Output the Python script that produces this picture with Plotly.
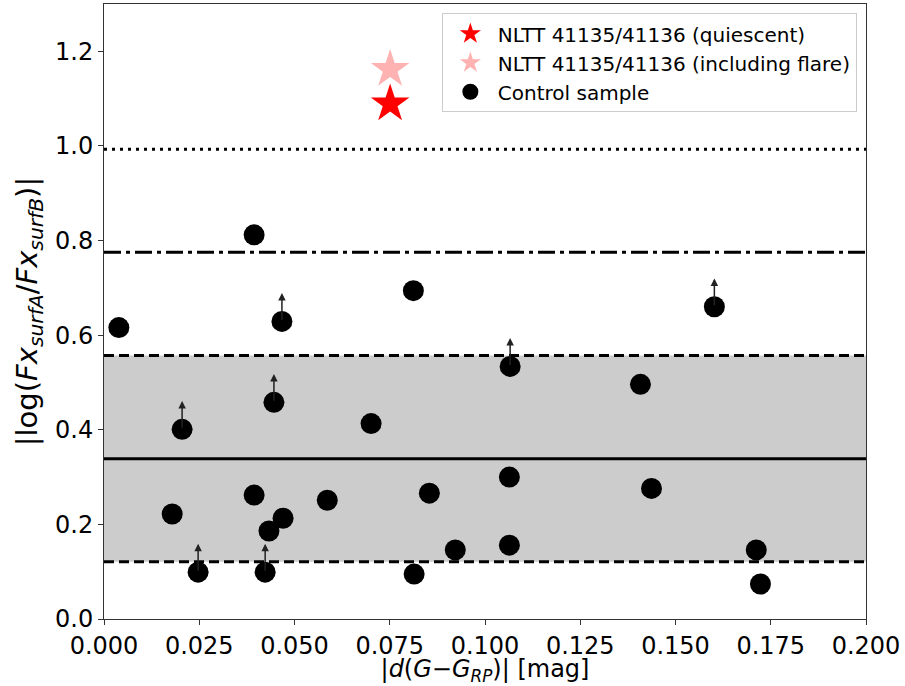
import plotly.graph_objects as go

# Control sample
ctrl_x = [0.0039, 0.0179, 0.0205, 0.0247, 0.0394, 0.0394, 0.0423, 0.0433, 0.0446, 0.0467,
          0.0470, 0.0586, 0.0701, 0.0812, 0.0814, 0.0854, 0.0922, 0.1066, 0.1064, 0.1064,
          0.1408, 0.1437, 0.1602, 0.1712, 0.1723]
ctrl_y = [0.616, 0.222, 0.401, 0.099, 0.812, 0.262, 0.099, 0.186, 0.458, 0.629,
          0.213, 0.251, 0.413, 0.694, 0.095, 0.266, 0.146, 0.534, 0.300, 0.156,
          0.496, 0.276, 0.660, 0.146, 0.074]
# lower limits (arrows)
ctrl_lim = [0, 0, 1, 1, 0, 0, 1, 0, 1, 1,
            0, 0, 0, 0, 0, 0, 0, 1, 0, 0,
            0, 0, 1, 0, 0]

star_x = [0.0751]
star_y_quiescent = [1.089]
star_y_flare = [1.162]

mean_val = 0.339
sigma_val = 0.218
arrow_len = 0.06

fig = go.Figure()

# shaded 1-sigma band
fig.add_shape(type="rect", xref="x domain", yref="y", x0=0, x1=1,
              y0=mean_val - sigma_val, y1=mean_val + sigma_val,
              fillcolor="#cccccc", line_width=0, layer="below")

line_specs = [
    (mean_val, "solid"),
    (mean_val - sigma_val, "10px,5px"),
    (mean_val + sigma_val, "10px,5px"),
    (mean_val + 2 * sigma_val, "17px,5px,4px,5px"),
    (mean_val + 3 * sigma_val, "3px,5px"),
]
for yv, dash in line_specs:
    fig.add_shape(type="line", xref="x domain", yref="y", x0=0, x1=1, y0=yv, y1=yv,
                  line=dict(color="black", width=3, dash=dash), layer="below")

fig.add_trace(go.Scatter(x=star_x, y=star_y_quiescent, mode="markers",
                         marker=dict(symbol="star", size=29, color="red", line_width=0),
                         name="NLTT 41135/41136 (quiescent)"))
fig.add_trace(go.Scatter(x=star_x, y=star_y_flare, mode="markers",
                         marker=dict(symbol="star", size=29, color="rgba(255,0,0,0.3)", line_width=0),
                         name="NLTT 41135/41136 (including flare)"))
fig.add_trace(go.Scatter(x=ctrl_x, y=ctrl_y, mode="markers",
                         marker=dict(symbol="circle", size=21, color="black", line_width=0),
                         name="Control sample"))

for xv, yv, lim in zip(ctrl_x, ctrl_y, ctrl_lim):
    if lim:
        fig.add_annotation(x=xv, y=yv + arrow_len, ax=xv, ay=yv, xref="x", yref="y",
                           axref="x", ayref="y", text="", showarrow=True,
                           arrowhead=2, arrowsize=1.0, arrowwidth=1.5, arrowcolor="#222")

fig.update_layout(
    width=905, height=686,
    margin=dict(l=104, r=39, t=3, b=63),
    paper_bgcolor="white", plot_bgcolor="white",
    font=dict(family="DejaVu Sans", size=24, color="black"),
    showlegend=True,
    legend=dict(x=0.988, y=0.985, xanchor="right", yanchor="top",
                bgcolor="rgba(255,255,255,0.8)", bordercolor="#cccccc", borderwidth=1,
                font=dict(size=20), itemsizing="trace", itemwidth=45, tracegroupgap=0),
)
fig.update_xaxes(range=[0, 0.2], dtick=0.025, tickformat=".3f", showgrid=False, zeroline=False,
                 showline=True, linecolor="#333", linewidth=1, mirror=True,
                 ticks="outside", ticklen=5, tickcolor="#333",
                 title=dict(text="|<i>d</i>(<i>G</i>−<i>G</i><sub><i>RP</i></sub>)| [mag]",
                            font=dict(family="DejaVu Sans", size=24, color="black"), standoff=6))
fig.update_yaxes(range=[0, 1.3], dtick=0.2, tickformat=".1f", showgrid=False, zeroline=False,
                 showline=True, linecolor="#333", linewidth=1, mirror=True,
                 ticks="outside", ticklen=5, tickcolor="#333",
                 title=dict(text="|log(<i>Fx<sub>surfA</sub></i>/<i>Fx<sub>surfB</sub></i>)|", standoff=8))

fig.write_html("out.html")
